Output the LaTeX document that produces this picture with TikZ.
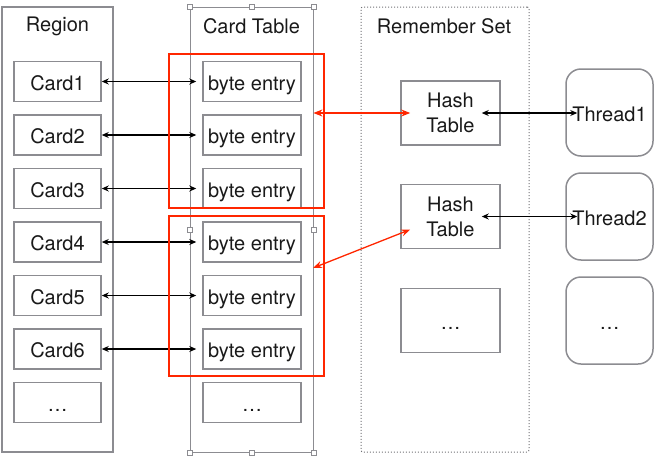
\documentclass[tikz,border=0pt]{standalone}
\usepackage{fontspec}
\setmainfont{TeX Gyre Heros}
\usetikzlibrary{arrows.meta}
\definecolor{boxgray}{RGB}{140,140,145}
\definecolor{markred}{RGB}{255,38,0}
\tikzset{
  every node/.style={font=\fontsize{20}{25}\selectfont, text=black!90},
  cellbox/.style={draw=boxgray, line width=1.5pt, minimum width=87pt, minimum height=40pt, inner sep=0pt,
    text height=17pt, text depth=0pt},
  hashbox/.style={draw=boxgray, line width=1.5pt, minimum width=99pt, minimum height=64pt, inner sep=0pt, align=center},
  threadbox/.style={cellbox, minimum height=87pt, rounded corners=15pt},
  column/.style={draw=boxgray, line width=1.5pt, minimum height=445pt, inner sep=0pt},
  handle/.style={draw=boxgray, fill=white, line width=0.6pt, minimum size=5pt, inner sep=0pt},
  biarrow/.style={{Stealth[length=7pt,width=6pt]}-{Stealth[length=7pt,width=6pt]}, line width=1.4pt, black},
  redarrow/.style={{Stealth[length=9pt,width=7pt]}-{Stealth[length=9pt,width=7pt]}, line width=1.3pt, markred},
}
\begin{document}
\begin{tikzpicture}[x=1pt, y={(0,-1pt)}]
 \useasboundingbox (0,0) rectangle (663,455);
 % columns
 \node[column, minimum width=111pt] (region) at (57.5,229.5) {};
 \node (regiontitle) at (57.5,26) {Region};
 \node[column, line width=0.8pt, minimum width=123pt] (ct) at (251.5,229.5) {};
 \node (cttitle) at (251.5,26) {Card Table};
 \node[draw=boxgray!80!black, dotted, line width=1pt, rounded corners=2pt, minimum width=168pt, minimum height=445pt] (rs) at (445,229.5) {};
 \node (rstitle) at (444,26) {Remember Set};
 % selection handles of the card table
 \foreach \a/\n in {north west/1,north/2,north east/3,west/4,east/5,south west/6,south/7,south east/8}
   \node[handle] (h\n) at (ct.\a) {};
 % cards and byte entries
 \foreach \i in {1,...,6} {
   \node[cellbox] (c\i) at (57.5,{28+53.5*\i}) {Card\i};
   \node[cellbox, minimum width=98pt] (b\i) at (252,{28+53.5*\i}) {byte entry};
   \draw[biarrow] (c\i.east) -- ([xshift=-6pt]b\i.west);
 }
 \node[cellbox] (c7) at (57.5,402.5) {\ldots};
 \node[cellbox, minimum width=98pt] (b7) at (252,402.5) {\ldots};
 % dirty card groups
 \draw[markred, line width=1.2pt] (169,54) rectangle (324,208);
 \draw[markred, line width=1.2pt] (169,216) rectangle (324,376);
 % remember set entries and threads
 \node[hashbox] (ht1) at (450.5,113) {Hash\\Table};
 \node[hashbox] (ht2) at (450.5,216.5) {Hash\\Table};
 \node[hashbox, text height=17pt, text depth=0pt] (ht3) at (450.5,320.5) {\ldots};
 \node[threadbox] (th1) at (609.5,112.5) {Thread1};
 \node[threadbox] (th2) at (609.5,216.5) {Thread2};
 \node[threadbox] (th3) at (609.5,320.5) {\ldots};
 \draw[biarrow] ([xshift=-19pt]ht1.east) -- ([xshift=12pt]th1.west |- ht1.east);
 \draw[biarrow] ([xshift=-19pt]ht2.east) -- ([xshift=12pt]th2.west |- ht2.east);
 \coordinate (g2) at (313,268);
 \draw[redarrow] (ct.east |- ht1.west) -- ([xshift=10pt]ht1.west);
 \draw[redarrow] (g2) -- ([xshift=10pt,yshift=-13pt]ht2.west);
\end{tikzpicture}
\end{document}
